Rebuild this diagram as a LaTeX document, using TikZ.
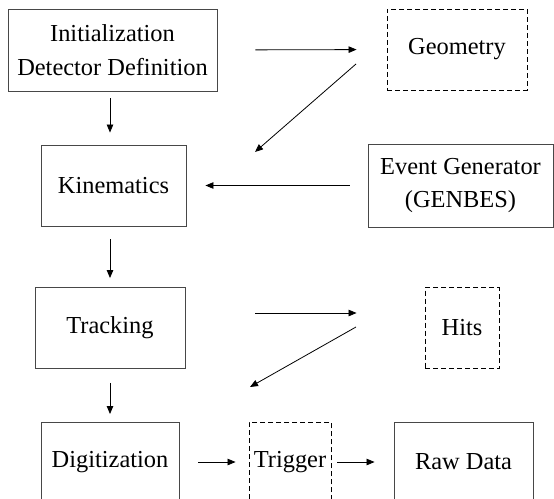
\documentclass[tikz,border=0pt]{standalone}
\usepackage{fontspec}
\setmainfont{Liberation Serif}
\newfontfamily\diagserif{Liberation Serif}
\usetikzlibrary{arrows.meta}
\begin{document}
\begin{tikzpicture}[x=1bp,y=-1bp,
  every node/.style={font=\diagserif\fontsize{24.5}{34}\selectfont, align=center, inner sep=0pt},
  solidbox/.style={draw=black!72, line width=0.9bp},
  dashbox/.style={draw=black, line width=0.9bp, dash pattern=on 5bp off 3bp},
  flow/.style={draw=black, line width=0.8bp, -{Triangle[length=8bp,width=6.5bp]}}]
\useasboundingbox (0,0) rectangle (554,499);
\clip (0,0) rectangle (554,499);
% boxes
\node[solidbox, minimum width=209bp, minimum height=82bp] (init) at (112.5,50) {Initialization\\Detector Definition};
\node[dashbox, minimum width=140bp, minimum height=81bp] (geom) at (457,49.5) {Geometry};
\node[solidbox, minimum width=145bp, minimum height=81bp] (kin) at (113.5,185.5) {Kinematics};
\node[solidbox, minimum width=185bp, minimum height=83bp] (evgen) at (460.5,185.5) {Event Generator\\(GENBES)};
\node[solidbox, minimum width=150bp, minimum height=81bp] (track) at (110,328) {Tracking};
\node[dashbox, minimum width=74bp, minimum height=81bp] (hits) at (462,328) {Hits};
\node[solidbox, minimum width=138bp, minimum height=84bp, anchor=north] (digi) at (110,422) {};
\node (digit) at (110,462) {Digitization};
\node[dashbox, minimum width=82bp, minimum height=84bp, anchor=north] (trig) at (290,422) {};
\node (trigt) at (290,462) {Trigger};
\node[solidbox, minimum width=139bp, minimum height=84bp, anchor=north] (raw) at (463.5,422) {};
\node (rawt) at (463.5,462) {Raw Data};
% free ends of diagonal connectors
\coordinate (g1) at (356,64);
\coordinate (g2) at (255,152);
\coordinate (h1) at (356,327);
\coordinate (h2) at (250,387);
% connectors
\draw[flow, shorten <=38bp, shorten >=30bp] (init.east) -- (geom.west);
\draw[flow] (g1) -- (g2);
\draw[flow, shorten <=18bp, shorten >=19bp] (evgen.west) -- (evgen.west -| kin.east);
\draw[flow, shorten <=7bp, shorten >=12bp] (init.south -| 110,0) -- (kin.north -| 110,0);
\draw[flow, shorten <=13bp, shorten >=9bp] (kin.south -| 110,0) -- (track.north -| 110,0);
\draw[flow, shorten <=70bp, shorten >=68bp] (track.east |- 0,313) -- (hits.west |- 0,313);
\draw[flow] (h1) -- (h2);
\draw[flow, shorten <=14bp, shorten >=8bp] (track.south) -- (digi.north);
\draw[flow, shorten <=19bp, shorten >=13bp] (digi.east |- 0,462) -- (trig.west |- 0,462);
\draw[flow, shorten <=6bp, shorten >=19bp] (trig.east |- 0,462) -- (raw.west |- 0,462);
\end{tikzpicture}
\end{document}
